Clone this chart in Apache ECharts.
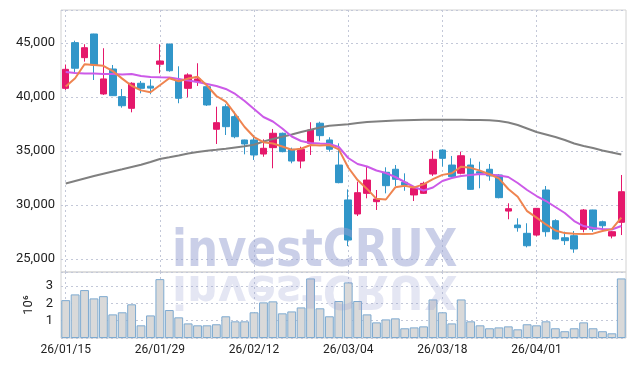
<!DOCTYPE html>
<html>
<head>
<meta charset="utf-8">
<script src="https://cdn.jsdelivr.net/npm/echarts@6/dist/echarts.min.js"></script>
<style>
  html, body { margin: 0; padding: 0; background: #fff; }
  #chart { width: 634px; height: 366px; }
</style>
</head>
<body>
<div id="chart"></div>
<script>
// trading days, 26/01/15 .. 26/04/14
const dates = [
  '26/01/15', '26/01/16', '26/01/19', '26/01/20', '26/01/21', '26/01/22', '26/01/23', '26/01/26', '26/01/27', '26/01/28',
  '26/01/29', '26/01/30', '26/02/02', '26/02/03', '26/02/04', '26/02/05', '26/02/06', '26/02/09', '26/02/10', '26/02/11',
  '26/02/12', '26/02/13', '26/02/19', '26/02/20', '26/02/23', '26/02/24', '26/02/25', '26/02/26', '26/02/27', '26/03/03',
  '26/03/04', '26/03/05', '26/03/06', '26/03/09', '26/03/10', '26/03/11', '26/03/12', '26/03/13', '26/03/16', '26/03/17',
  '26/03/18', '26/03/19', '26/03/20', '26/03/23', '26/03/24', '26/03/25', '26/03/26', '26/03/27', '26/03/30', '26/03/31',
  '26/04/01', '26/04/02', '26/04/03', '26/04/06', '26/04/07', '26/04/08', '26/04/09', '26/04/10', '26/04/13', '26/04/14'
];

const open = [
  40800, 45030, 43640, 45830, 40280, 42590, 40030, 38950, 41270, 41000,
  43030, 44900, 41480, 40800, 41420, 40950, 37010, 39100, 38180, 36020,
  36020, 34720, 35310, 36640, 35160, 34070, 35710, 37570, 36020, 33700,
  30470, 29170, 31080, 30310, 33030, 33310, 32100, 30930, 31080, 32870,
  35090, 33700, 32940, 33700, 33080, 33310, 32780, 29440, 28150, 27380,
  27220, 31390, 28550, 26970, 27160, 27750, 29540, 28450, 27130, 28400
];
const close = [
  42560, 42660, 44560, 42960, 41670, 40120, 39190, 41270, 40800, 40820,
  43330, 42430, 39880, 42040, 41670, 39260, 37620, 37250, 36320, 35650,
  34630, 35250, 36640, 34940, 34070, 35160, 36940, 36420, 35160, 32070,
  26760, 31140, 32310, 30560, 31790, 32380, 31850, 31550, 32000, 34230,
  34320, 32620, 34560, 31450, 32940, 32690, 30680, 29660, 27900, 26230,
  29690, 27530, 26850, 26700, 25930, 29540, 27750, 28080, 27530, 31230
];
const low = [
  40650, 42200, 43270, 41570, 40190, 40100, 39010, 38580, 40340, 40250,
  42190, 42340, 39420, 39970, 41020, 39170, 35650, 36480, 36180, 34690,
  34170, 34470, 33400, 34880, 33860, 33400, 34630, 35950, 34935, 32010,
  26200, 28980, 30620, 29540, 31080, 31760, 31320, 30370, 31020, 32690,
  33560, 32560, 32840, 31400, 31550, 32250, 30620, 28680, 27530, 26080,
  27100, 27070, 26800, 26300, 25580, 27470, 27530, 27690, 26910, 27220
];
const high = [
  43000, 45210, 44880, 45850, 44510, 42960, 40740, 41360, 41480, 41640,
  44880, 44920, 42840, 42190, 43120, 41020, 39100, 39320, 38640, 36050,
  36480, 36080, 37040, 36700, 35310, 35400, 37660, 37710, 36270, 35710,
  31450, 32160, 33610, 31390, 33490, 33700, 32930, 31760, 32160, 35030,
  35150, 34540, 34940, 34320, 34010, 33800, 32870, 30160, 28770, 28310,
  29700, 31760, 28680, 27530, 27590, 29630, 29560, 28550, 27590, 32780
];

// moving averages
const ma5 = [
  40960, 41730, 43030, 42960, 42880, 42390, 41700, 41040, 40610, 40440,
  41080, 41730, 41450, 41700, 41870, 41060, 40090, 39570, 38420, 37220,
  36290, 35820, 35700, 35420, 35110, 35210, 35550, 35510, 35550, 35150,
  33470, 32310, 31490, 30570, 30510, 31640, 31780, 31630, 31910, 32400,
  32790, 32940, 33550, 33440, 33180, 32850, 32460, 31480, 30770, 29430,
  28830, 28200, 27640, 27400, 27340, 27310, 27350, 27600, 27770, 28830
];
const ma20 = [
  42315, 42222, 42176, 42176, 42130, 42130, 42083, 42130, 41944, 41852,
  41824, 41800, 41667, 41528, 41389, 41204, 41018, 40740, 40278, 39630,
  38889, 38148, 37731, 37083, 36343, 35926, 35741, 35694, 35648, 35370,
  34352, 33796, 33565, 33194, 32963, 32593, 32130, 31667, 31343, 31620,
  32222, 32500, 32685, 32778, 32870, 32824, 32731, 32593, 32037, 31389,
  30833, 30370, 29815, 29259, 28519, 28056, 27870, 27778, 27731, 28056
];
const ma60 = [
  31990, 32222, 32454, 32685, 32898, 33102, 33306, 33519, 33722, 33980,
  34259, 34417, 34583, 34769, 34907, 35018, 35111, 35213, 35324, 35435,
  35583, 35880, 36111, 36324, 36519, 36759, 36972, 37176, 37343, 37407,
  37472, 37593, 37685, 37731, 37778, 37824, 37852, 37870, 37889, 37898,
  37898, 37889, 37889, 37870, 37870, 37843, 37778, 37639, 37407, 37083,
  36759, 36528, 36296, 36019, 35694, 35463, 35278, 35046, 34861, 34676
];

// volume, millions of shares
const volume = [
  2.18, 2.51, 2.76, 2.28, 2.41, 1.36, 1.48, 1.94, 0.73, 1.30,
  3.39, 1.61, 1.19, 0.84, 0.73, 0.73, 0.79, 1.25, 0.96, 0.96,
  1.48, 2.05, 2.11, 1.42, 1.53, 1.76, 3.43, 1.71, 1.25, 2.13,
  3.20, 2.13, 1.36, 0.90, 1.07, 1.13, 0.56, 0.61, 0.67, 2.22,
  1.48, 0.84, 2.22, 0.96, 0.73, 0.56, 0.61, 0.67, 0.50, 0.79,
  0.73, 0.96, 0.56, 0.39, 0.56, 0.90, 0.56, 0.39, 0.27, 3.43
];

const UP = '#e5186b';
const DOWN = '#3196c9';

const candles = dates.map((d, i) => [open[i], close[i], low[i], high[i]]);

const everyTen = (i) => i % 10 === 0;
const dotted = { color: '#c3c8d8', type: [2, 3], width: 1 };
const gridLine = { show: true, interval: everyTen, alignWithLabel: true, lineStyle: dotted };
const labelFont = { color: '#222', fontSize: 12, fontFamily: 'Roboto' };
const markFont = 'bold 51px "DejaVu Sans"';

const chart = echarts.init(document.getElementById('chart'));

const option = {
  animation: false,
  grid: [
    { left: 61, right: 8, top: 10, height: 262, show: true, borderColor: '#d2d2d2', borderWidth: 1 },
    { left: 61, right: 8, top: 272, height: 66, show: true, borderColor: '#d2d2d2', borderWidth: 1 }
  ],
  xAxis: [
    {
      type: 'category', gridIndex: 0, data: dates,
      axisLine: { show: false }, axisTick: { show: false }, axisLabel: { show: false },
      splitLine: gridLine
    },
    {
      type: 'category', gridIndex: 1, data: dates,
      axisLine: { show: false }, axisTick: { show: false },
      axisLabel: Object.assign({ interval: everyTen, margin: 6 }, labelFont),
      splitLine: gridLine
    }
  ],
  yAxis: [
    {
      type: 'value', gridIndex: 0, min: 23800, max: 48050, splitNumber: 5,
      axisLine: { show: false }, axisTick: { show: false },
      axisLabel: Object.assign({
        margin: 6, showMinLabel: false, showMaxLabel: false,
        formatter: (v) => (v % 5000 === 0 ? v.toLocaleString('en-US') : '')
      }, labelFont, { fontSize: 13 }),
      splitLine: { show: true, lineStyle: dotted }
    },
    {
      type: 'value', gridIndex: 1, min: 0, max: 3.8, interval: 1,
      axisLine: { show: false }, axisTick: { show: false },
      axisLabel: Object.assign({ margin: 8, showMinLabel: false, showMaxLabel: false }, labelFont, { fontSize: 13 }),
      splitLine: { show: true, lineStyle: dotted },
      name: '10⁶', nameLocation: 'middle', nameRotate: 90, nameGap: 21,
      nameTextStyle: { color: '#222', fontSize: 13, fontFamily: 'Roboto' }
    }
  ],
  series: [
    {
      type: 'candlestick', xAxisIndex: 0, yAxisIndex: 0, data: candles, barWidth: 7,
      itemStyle: { color: UP, color0: DOWN, borderColor: UP, borderColor0: DOWN, borderWidth: 1 }
    },
    {
      type: 'line', xAxisIndex: 0, yAxisIndex: 0, data: ma60, showSymbol: false,
      lineStyle: { color: '#808080', width: 2 }
    },
    {
      type: 'line', xAxisIndex: 0, yAxisIndex: 0, data: ma20, showSymbol: false,
      lineStyle: { color: '#cc5ae8', width: 2 }
    },
    {
      type: 'line', xAxisIndex: 0, yAxisIndex: 0, data: ma5, showSymbol: false,
      lineStyle: { color: '#ef8450', width: 2 }
    },
    {
      type: 'bar', xAxisIndex: 1, yAxisIndex: 1, data: volume, barCategoryGap: '6%',
      itemStyle: { color: '#d9d9d9', borderColor: '#7eaad0', borderWidth: 1 }
    }
  ],
  graphic: [
    {
      type: 'text', x: 172, y: 253, scaleX: 0.855, z: 100, silent: true,
      style: {
        text: 'investCRUX', font: markFont,
        fill: 'rgba(150,160,210,0.5)', align: 'left', verticalAlign: 'middle'
      }
    },
    {
      type: 'text', x: 172, y: 288, scaleX: 0.855, scaleY: -0.9, z: 100, silent: true,
      style: {
        text: 'investCRUX', font: markFont,
        fill: 'rgba(150,160,210,0.26)', align: 'left', verticalAlign: 'middle'
      }
    }
  ]
};

chart.setOption(option);
</script>
</body>
</html>
